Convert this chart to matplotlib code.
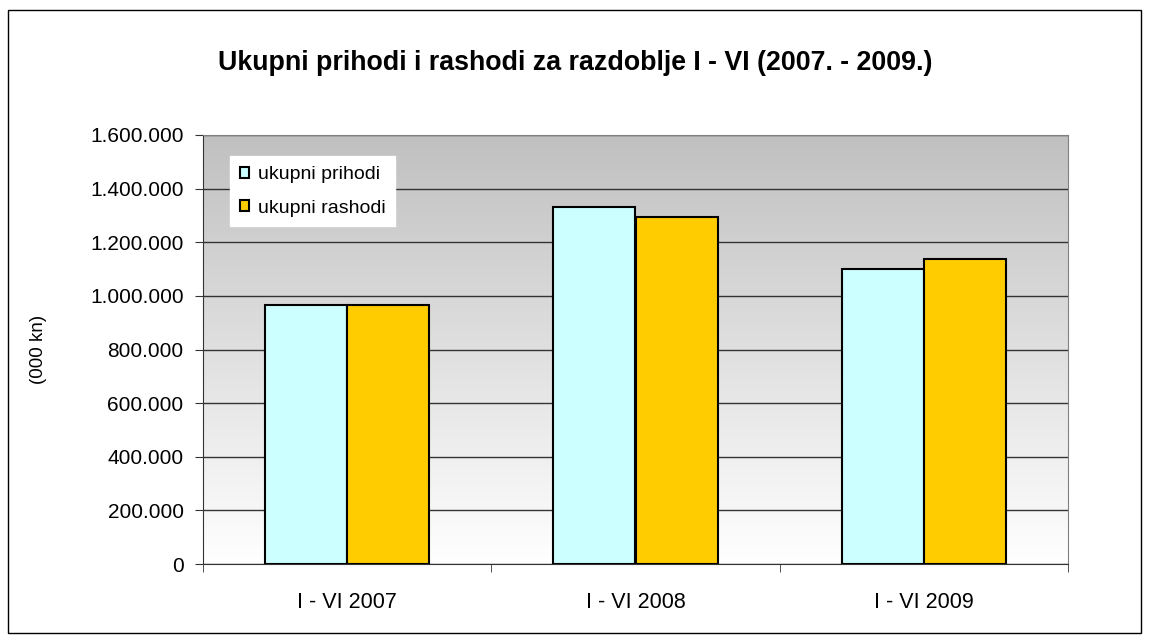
import numpy as np #number functions
import matplotlib
matplotlib.use('Agg')
import matplotlib.pyplot as plt #plotting functions
from matplotlib.patches import Rectangle
from matplotlib.ticker import FuncFormatter, MultipleLocator

plt.rcParams['font.family'] = ['Liberation Sans', 'DejaVu Sans']

categories = ['I - VI 2007', 'I - VI 2008', 'I - VI 2009']
prihodi = [967000, 1331000, 1099000] #ukupni prihodi (000 kn)
rashodi = [966000, 1295000, 1139000] #ukupni rashodi (000 kn)
series_names = ['ukupni prihodi', 'ukupni rashodi']
colors = ['#ccffff', '#ffcc00']

fig = plt.figure(figsize=(11.5, 6.41), dpi=100)
ax = fig.add_axes([203/1150, 1-564/641, (1068-203)/1150, (564-135)/641])

#outer frame of the chart
fig.patches.append(Rectangle((8/1150, 1-633/641), (1141-8)/1150, (633-10)/641,
                             transform=fig.transFigure, fill=False, ec='black', lw=1))

#gradient background gray (top) -> white (bottom)
grad = np.linspace(0, 1, 256).reshape(-1, 1)
ax.imshow(grad, cmap=matplotlib.colors.LinearSegmentedColormap.from_list('g', ['#c0c0c0', '#ffffff']),
          aspect='auto', extent=[-0.5, 2.5, 0, 1600000], origin='upper', zorder=0)

x = np.arange(len(categories))
w = 0.285
ax.bar(x - w/2, prihodi, w, color=colors[0], edgecolor='black', lw=1.5, label=series_names[0], zorder=3)
ax.bar(x + w/2, rashodi, w, color=colors[1], edgecolor='black', lw=1.5, label=series_names[1], zorder=3)

ax.set_xlim(-0.5, 2.5)
ax.set_ylim(0, 1600000)
ax.yaxis.set_major_locator(MultipleLocator(200000))
ax.yaxis.set_major_formatter(FuncFormatter(lambda v, p: '{:,.0f}'.format(v).replace(',', '.')))
ax.grid(axis='y', color='#333333', lw=1, zorder=1)

ax.set_xticks(x)
ax.set_xticklabels(categories)
ax.set_xticks([-0.5, 0.5, 1.5, 2.5], minor=True)
ax.tick_params(axis='x', which='major', length=0, pad=20, labelsize=15.5)
ax.tick_params(axis='x', which='minor', length=6, direction='out', color='#333333')
ax.tick_params(axis='y', length=6, direction='out', labelsize=15, color='#333333', pad=8)

for s in ['top', 'right']:
    ax.spines[s].set_color('#808080')
ax.spines['left'].set_color('#333333')
ax.spines['bottom'].set_color('#333333')

ax.set_ylabel('(000 kn)', fontsize=13.5)
ax.yaxis.set_label_coords(-0.18, 0.5)

fig.text(0.5, 1-63/641, 'Ukupni prihodi i rashodi za razdoblje I - VI (2007. - 2009.)',
         ha='center', va='center', fontsize=19.3, fontweight='bold')

ax.legend(loc='upper left', bbox_to_anchor=(0.031, 0.95), frameon=True, fancybox=False,
          edgecolor='white', framealpha=1, fontsize=14, handlelength=0.5, handleheight=0.5,
          handletextpad=0.45, labelspacing=0.85, borderpad=0.5, borderaxespad=0)

plt.savefig('out.png', dpi=100)
